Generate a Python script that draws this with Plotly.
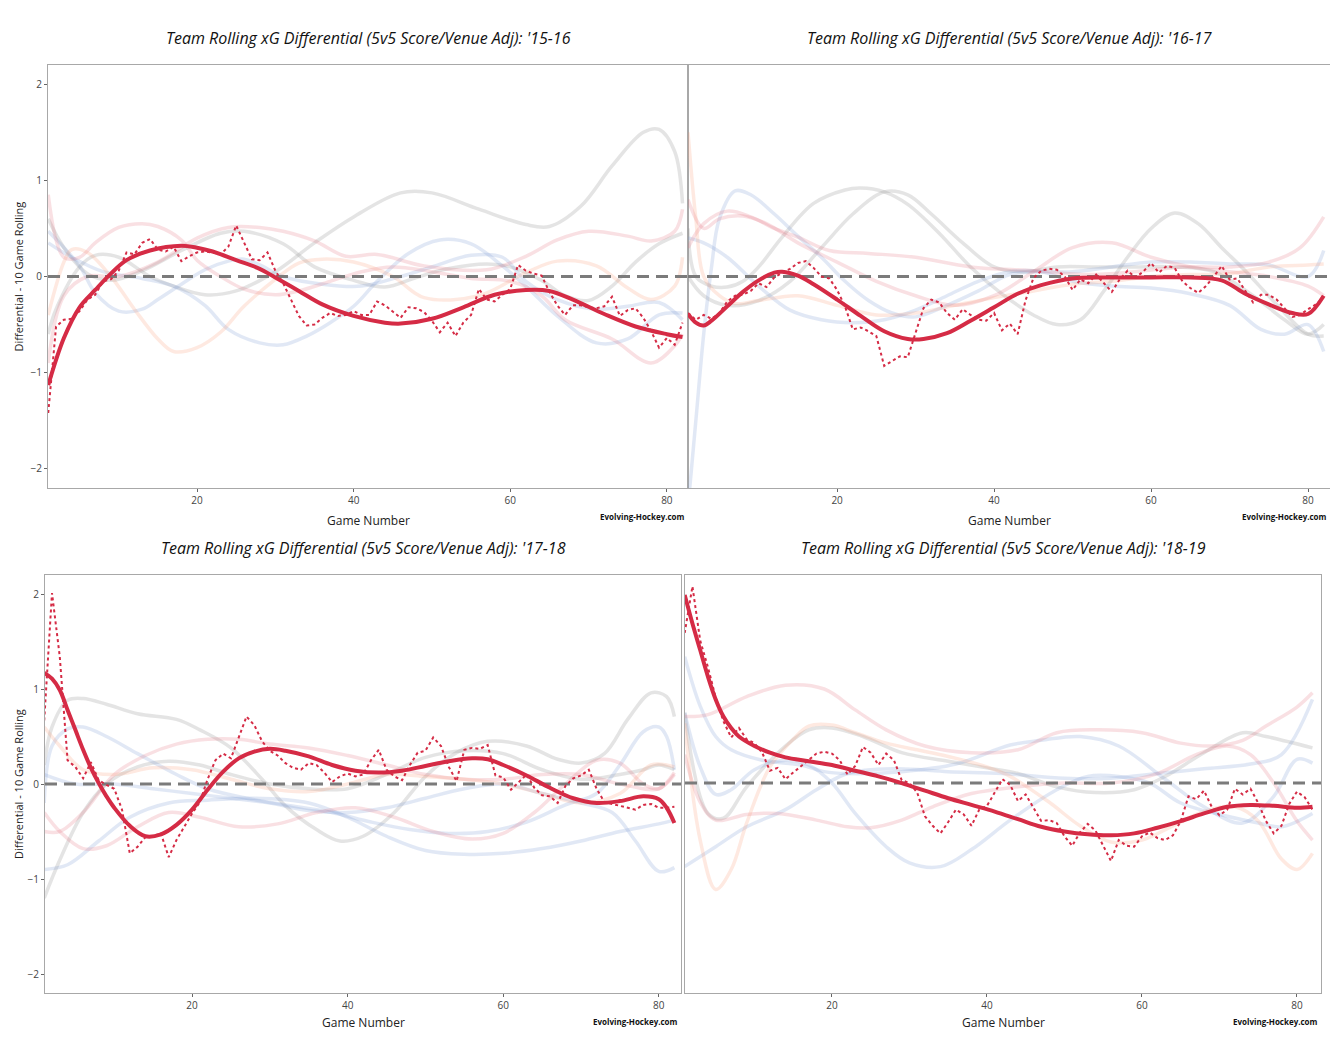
import plotly.graph_objects as go

# page body has an 8px margin, so the figure is drawn 8px smaller and shifted
PAGE_W, PAGE_H, OFF = 1338, 1039, 8
W, H = PAGE_W - 2 * OFF, PAGE_H - 2 * OFF
games = list(range(1, 83))

# ---------------- highlighted team: 10-game rolling (dotted) ----------------
p1_roll = [-1.42, -0.52, -0.45, -0.44, -0.36, -0.24, -0.19, -0.05, -0.03, 0.06,
           0.25, 0.23, 0.35, 0.39, 0.28, 0.26, 0.31, 0.16, 0.21, 0.25,
           0.26, 0.25, 0.23, 0.31, 0.53, 0.35, 0.18, 0.17, 0.25, 0.06,
           -0.07, -0.24, -0.41, -0.51, -0.50, -0.43, -0.38, -0.41, -0.40, -0.36,
           -0.40, -0.40, -0.26, -0.30, -0.37, -0.43, -0.32, -0.33, -0.37, -0.46,
           -0.58, -0.48, -0.62, -0.48, -0.40, -0.13, -0.24, -0.26, -0.19, -0.13,
           0.12, 0.06, 0.03, 0.01, -0.16, -0.30, -0.40, -0.30, -0.30, -0.32,
           -0.33, -0.31, -0.21, -0.41, -0.35, -0.33, -0.43, -0.57, -0.74, -0.64,
           -0.71, -0.48]
p2_roll = [-0.38, -0.45, -0.40, -0.44, -0.38, -0.26, -0.20, -0.19, -0.15, -0.07,
           -0.11, -0.01, 0.04, 0.08, 0.14, 0.16, 0.09, 0.00, -0.02, -0.14,
           -0.31, -0.55, -0.53, -0.57, -0.62, -0.93, -0.88, -0.83, -0.84, -0.58,
           -0.33, -0.24, -0.27, -0.38, -0.45, -0.34, -0.40, -0.45, -0.46, -0.38,
           -0.56, -0.49, -0.60, -0.25, -0.02, 0.06, 0.08, 0.07, 0.00, -0.14,
           -0.03, -0.07, 0.02, -0.07, -0.16, -0.03, 0.06, -0.01, 0.05, 0.14,
           0.04, 0.11, 0.09, -0.05, -0.12, -0.17, -0.10, 0.00, 0.11, -0.03,
           -0.02, -0.15, -0.27, -0.19, -0.19, -0.24, -0.33, -0.42, -0.40, -0.34,
           -0.29, -0.22]
p3_roll = [0.67, 2.01, 1.34, 0.25, 0.18, 0.06, 0.23, 0.04, -0.01, -0.05,
           -0.27, -0.73, -0.66, -0.56, -0.55, -0.52, -0.77, -0.59, -0.45, -0.31,
           -0.19, 0.05, 0.25, 0.32, 0.27, 0.50, 0.71, 0.62, 0.45, 0.35,
           0.30, 0.22, 0.17, 0.15, 0.22, 0.20, 0.12, 0.02, 0.08, 0.11,
           0.08, 0.10, 0.25, 0.36, 0.15, 0.08, 0.04, 0.20, 0.33, 0.35,
           0.49, 0.40, 0.18, 0.03, 0.36, 0.38, 0.37, 0.41, 0.09, 0.07,
           -0.06, 0.02, 0.10, -0.04, -0.12, -0.13, -0.20, -0.02, 0.06, 0.09,
           0.15, -0.05, -0.19, -0.21, -0.23, -0.25, -0.27, -0.22, -0.21, -0.25,
           -0.25, -0.24]
p4_roll = [1.58, 2.07, 1.50, 1.22, 0.90, 0.65, 0.48, 0.58, 0.46, 0.42,
           0.32, 0.13, 0.16, 0.04, 0.11, 0.18, 0.25, 0.31, 0.33, 0.31,
           0.24, 0.09, 0.18, 0.38, 0.32, 0.19, 0.31, 0.24, 0.03, 0.00,
           -0.10, -0.35, -0.45, -0.53, -0.41, -0.28, -0.33, -0.45, -0.28, -0.24,
           -0.10, 0.04, -0.02, -0.19, -0.12, -0.26, -0.40, -0.39, -0.42, -0.56,
           -0.66, -0.52, -0.43, -0.50, -0.66, -0.82, -0.60, -0.66, -0.67, -0.56,
           -0.52, -0.58, -0.60, -0.55, -0.40, -0.14, -0.17, -0.08, -0.25, -0.34,
           -0.28, -0.06, -0.12, -0.06, -0.21, -0.40, -0.53, -0.45, -0.22, -0.09,
           -0.15, -0.28]

# ---------------- highlighted team: smoothed trend ----------------
p1_trend_g = [1, 3, 5, 7, 9, 11, 14, 18, 20, 22, 25, 28, 30, 33, 36, 40, 44, 46, 50, 54,
              58, 62, 65, 68, 72, 76, 80, 82]
p1_trend = [-1.13, -0.64, -0.32, -0.14, 0.03, 0.17, 0.27, 0.32, 0.30, 0.26, 0.17, 0.08,
            -0.01, -0.15, -0.29, -0.41, -0.48, -0.49, -0.44, -0.32, -0.19, -0.14, -0.15,
            -0.24, -0.39, -0.52, -0.60, -0.63]
p2_trend_g = [1, 2, 3, 4, 6, 8, 10, 12, 13, 15, 17, 20, 23, 26, 29, 31, 34, 37, 40, 43,
              46, 50, 55, 60, 65, 69, 72, 75, 78, 80, 82]
p2_trend = [-0.39, -0.48, -0.51, -0.46, -0.31, -0.16, -0.04, 0.04, 0.05, 0.01, -0.08,
            -0.24, -0.41, -0.57, -0.65, -0.65, -0.59, -0.46, -0.32, -0.18, -0.09, -0.02,
            -0.01, -0.01, -0.01, -0.04, -0.18, -0.29, -0.38, -0.39, -0.20]
p3_trend_g = [1, 2, 3, 4, 5, 6, 7, 8, 9, 10, 12, 14, 16, 18, 20, 22, 24, 26, 28, 30, 32,
              35, 38, 41, 44, 47, 50, 53, 56, 58, 60, 63, 66, 69, 72, 75, 78, 80, 81, 82]
p3_trend = [1.17, 1.11, 0.99, 0.78, 0.57, 0.36, 0.17, 0.01, -0.13, -0.25, -0.44, -0.55,
            -0.53, -0.43, -0.27, -0.06, 0.13, 0.27, 0.34, 0.37, 0.35, 0.29, 0.20, 0.14,
            0.12, 0.14, 0.19, 0.24, 0.27, 0.26, 0.20, 0.09, -0.04, -0.15, -0.20, -0.18,
            -0.13, -0.16, -0.25, -0.41]
p4_trend_g = [1, 2, 3, 4, 5, 6, 7, 8, 10, 12, 14, 17, 20, 23, 26, 29, 32, 35, 38, 41, 44,
              47, 50, 53, 56, 59, 62, 65, 68, 71, 74, 77, 80, 82]
p4_trend = [1.98, 1.68, 1.40, 1.12, 0.88, 0.70, 0.58, 0.49, 0.39, 0.32, 0.27, 0.23, 0.19,
            0.13, 0.07, 0.00, -0.08, -0.16, -0.23, -0.30, -0.38, -0.46, -0.51, -0.54,
            -0.55, -0.53, -0.47, -0.40, -0.32, -0.25, -0.23, -0.24, -0.26, -0.25]

# ---------------- other teams (faint smoothed trends), (game, value) ----------------
p1_gray_a = [(1, -0.6), (2, -0.34), (5, 0.1), (7, 0.22), (10, 0.2), (14, 0.0), (17, -0.1),
             (21, -0.19), (25, -0.15), (30, 0.05), (35, 0.35), (40, 0.62), (46, 0.87),
             (50, 0.87), (56, 0.7), (62, 0.54), (65, 0.52), (69, 0.73), (73, 1.15), (77, 1.5),
             (79, 1.53), (81, 1.3), (82, 0.76)]
p1_gray_b = [(1, 0.6), (3, 0.3), (6, 0.03), (9, -0.04), (13, 0.06), (18, 0.27), (23, 0.45),
             (26, 0.47), (31, 0.34), (35, 0.1), (40, -0.04), (44, -0.11), (48, -0.01),
             (52, 0.08), (57, 0.13), (60, 0.1), (64, -0.04), (67, -0.2), (70, -0.25),
             (73, -0.1), (76, 0.15), (79, 0.34), (82, 0.45)]
p1_blue_a = [(1, 0.47), (5, 0.11), (7, -0.17), (10, -0.36), (13, -0.34), (15, -0.24),
             (18, -0.08), (21, 0.07), (24, 0.16), (26, 0.18), (28, 0.12), (31, 0.0),
             (36, -0.08), (41, -0.1), (46, 0.0), (50, 0.1), (55, 0.22), (59, 0.2), (62, -0.05),
             (66, -0.24), (71, -0.34), (75, -0.31), (79, -0.27), (82, -0.45)]
p1_blue_b = [(1, 0.35), (4, 0.2), (8, 0.05), (13, -0.02), (17, -0.1), (21, -0.3), (24, -0.55),
             (28, -0.69), (31, -0.71), (34, -0.62), (37, -0.48), (40, -0.31), (43, -0.05),
             (47, 0.24), (51, 0.38), (55, 0.34), (59, 0.11), (62, -0.1), (66, -0.41),
             (71, -0.69), (75, -0.65), (79, -0.4), (82, -0.38)]
p1_pink_a = [(1, 0.85), (3, 0.2), (5, 0.2), (7, 0.35), (10, 0.51), (13, 0.55), (15, 0.52),
             (18, 0.38), (20, 0.17), (23, 0.0), (26, -0.13), (30, -0.19), (33, -0.15),
             (37, -0.05), (41, 0.05), (45, 0.1), (50, 0.05), (55, -0.02), (60, -0.05),
             (64, -0.2), (67, -0.45), (73, -0.65), (78, -0.9), (81, -0.72), (82, -0.6)]
p1_pink_b = [(1, -0.9), (3, -0.2), (6, 0.0), (10, 0.0), (15, 0.15), (20, 0.4), (24, 0.51),
             (28, 0.51), (31, 0.47), (35, 0.37), (39, 0.21), (43, 0.23), (49, 0.11),
             (57, 0.07), (62, 0.21), (66, 0.38), (70, 0.47), (75, 0.42), (78, 0.37),
             (81, 0.47), (82, 0.7)]
p1_peach_a = [(1, -0.4), (3, 0.15), (4, 0.28), (6, 0.25), (9, 0.0), (12, -0.34), (15, -0.65),
              (17, -0.78), (20, -0.74), (23, -0.58), (26, -0.31), (30, -0.03), (33, 0.14),
              (36, 0.18), (40, 0.15), (45, 0.0), (49, -0.22), (56, -0.2), (62, 0.04),
              (66, 0.16), (71, 0.11), (75, -0.12), (78, -0.24), (81, -0.1), (82, 0.2)]

p2_gray_a = [(1, 0.5), (2, 0.0), (4, -0.1), (6, -0.11), (8, -0.05), (10, 0.1), (13, 0.41),
             (17, 0.76), (21, 0.9), (23, 0.92), (26, 0.88), (29, 0.75), (33, 0.45), (37, 0.1),
             (41, -0.18), (45, -0.4), (48, -0.5), (51, -0.45), (54, -0.15), (57, 0.2),
             (60, 0.5), (63, 0.66), (66, 0.55), (69, 0.3), (72, 0.06), (76, -0.29),
             (80, -0.6), (82, -0.62)]
p2_gray_b = [(1, 0.0), (3, -0.2), (6, -0.3), (10, -0.25), (14, -0.05), (18, 0.3), (22, 0.65),
             (26, 0.88), (29, 0.85), (32, 0.65), (36, 0.35), (40, 0.1), (44, 0.05), (48, 0.1),
             (53, 0.1), (58, 0.1), (63, 0.1), (68, 0.05), (73, -0.2), (77, -0.45), (80, -0.6),
             (82, -0.5)]
p2_blue_a = [(1, -2.4), (2, -1.5), (3, -0.6), (4, 0.1), (5, 0.6), (7, 0.89), (9, 0.85),
             (12, 0.65), (15, 0.42), (18, 0.2), (21, -0.05), (24, -0.25), (27, -0.38),
             (30, -0.42), (34, -0.3), (38, -0.15), (42, 0.02), (46, 0.05), (50, 0.05),
             (55, 0.1), (60, 0.15), (65, 0.15), (70, 0.13), (75, 0.12), (80, 0.0), (82, 0.27)]
p2_blue_b = [(1, 0.4), (3, 0.35), (6, 0.2), (10, -0.1), (14, -0.35), (18, -0.45), (22, -0.48),
             (26, -0.45), (30, -0.35), (34, -0.2), (38, -0.05), (42, 0.05), (46, 0.05),
             (50, -0.05), (55, -0.1), (60, -0.12), (65, -0.18), (70, -0.3), (74, -0.55),
             (77, -0.6), (80, -0.5), (82, -0.78)]
p2_pink_a = [(1, 0.3), (3, 0.55), (6, 0.68), (9, 0.62), (12, 0.5), (15, 0.41), (19, 0.27),
             (24, 0.24), (30, 0.2), (37, 0.1), (45, 0.06), (52, 0.02), (58, 0.05), (64, 0.1),
             (70, 0.1), (75, 0.15), (79, 0.3), (82, 0.62)]
p2_pink_b = [(1, 0.8), (3, 0.5), (5, 0.6), (8, 0.63), (11, 0.55), (15, 0.35), (20, 0.15),
             (25, -0.05), (30, -0.2), (35, -0.3), (40, -0.2), (45, 0.05), (50, 0.3),
             (55, 0.35), (60, 0.2), (65, 0.1), (70, 0.05), (75, 0.0), (80, -0.1), (82, -0.2)]
p2_peach_a = [(1, 1.5), (2, 0.6), (3, 0.0), (5, -0.2), (7, -0.28), (10, -0.25), (15, -0.2),
              (20, -0.3), (25, -0.4), (30, -0.38), (35, -0.3), (40, -0.22), (45, -0.15),
              (50, -0.08), (55, -0.05), (60, 0.0), (65, 0.02), (70, 0.03), (75, 0.1),
              (80, 0.12), (82, 0.13)]

p3_gray_a = [(1, 0.2), (2, 0.6), (4, 0.88), (6, 0.9), (9, 0.84), (13, 0.74), (18, 0.68),
             (21, 0.57), (25, 0.38), (29, 0.05), (32, -0.23), (36, -0.48), (39, -0.6),
             (42, -0.55), (46, -0.3), (50, 0.08), (54, 0.33), (58, 0.45), (63, 0.4),
             (67, 0.26), (70, 0.22), (73, 0.32), (76, 0.68), (79, 0.96), (81, 0.92), (82, 0.71)]
p3_gray_b = [(1, -1.2), (3, -0.8), (6, -0.3), (9, 0.0), (13, 0.18), (17, 0.24), (21, 0.2),
             (25, 0.1), (30, 0.0), (35, -0.05), (40, -0.05), (45, 0.1), (50, 0.28), (55, 0.35),
             (60, 0.32), (65, 0.15), (70, 0.05), (75, 0.1), (78, 0.15), (80, 0.2), (82, 0.15)]
p3_blue_a = [(1, -0.2), (2, 0.4), (4, 0.58), (6, 0.6), (9, 0.5), (13, 0.32), (18, 0.1),
             (22, -0.05), (27, -0.15), (32, -0.22), (38, -0.3), (43, -0.4), (48, -0.48),
             (53, -0.52), (58, -0.5), (63, -0.4), (68, -0.22), (72, -0.1), (75, 0.2),
             (78, 0.55), (80, 0.6), (81, 0.5), (82, 0.15)]
p3_blue_b = [(1, -0.9), (4, -0.85), (8, -0.6), (12, -0.35), (17, -0.2), (22, -0.17),
             (28, -0.15), (35, -0.2), (40, -0.35), (45, -0.55), (50, -0.7), (55, -0.74),
             (60, -0.73), (65, -0.68), (70, -0.6), (75, -0.5), (80, -0.42), (82, -0.38)]
p3_blue_c = [(1, 0.1), (5, 0.0), (10, 0.0), (15, -0.05), (20, -0.1), (25, -0.15), (30, -0.2),
             (35, -0.28), (40, -0.3), (45, -0.25), (50, -0.15), (55, -0.05), (60, 0.0),
             (65, -0.1), (70, -0.2), (74, -0.3), (77, -0.6), (80, -0.92), (82, -0.88)]
p3_pink_a = [(1, -0.5), (3, -0.5), (6, -0.3), (10, 0.1), (14, 0.3), (18, 0.42), (22, 0.47),
             (26, 0.47), (30, 0.42), (35, 0.38), (40, 0.3), (45, 0.2), (50, 0.1), (55, 0.05),
             (60, 0.05), (65, 0.1), (70, 0.1), (75, 0.0), (80, -0.05), (82, 0.1)]
p3_pink_b = [(1, -0.3), (3, -0.5), (6, -0.68), (9, -0.65), (13, -0.45), (17, -0.3),
             (21, -0.35), (26, -0.45), (31, -0.42), (36, -0.3), (41, -0.25), (46, -0.35),
             (51, -0.5), (56, -0.58), (60, -0.52), (64, -0.3), (68, 0.0), (72, 0.25),
             (75, 0.22), (78, 0.0), (80, -0.05), (82, 0.12)]
p3_peach_a = [(1, 0.6), (3, 0.4), (6, 0.15), (10, 0.1), (15, 0.17), (20, 0.15), (25, 0.05),
              (30, -0.05), (35, -0.08), (40, 0.0), (45, 0.1), (50, 0.08), (55, 0.05),
              (60, 0.0), (65, -0.1), (70, -0.2), (75, -0.1), (79, 0.2), (82, 0.18)]

p4_pink_a = [(1, 0.7), (4, 0.72), (9, 0.91), (14, 1.03), (19, 0.99), (23, 0.77), (27, 0.56),
             (32, 0.39), (38, 0.32), (44, 0.35), (49, 0.53), (54, 0.56), (60, 0.53),
             (65, 0.42), (69, 0.39), (73, 0.45), (76, 0.6), (80, 0.8), (82, 0.95)]
p4_pink_b = [(1, 0.3), (3, -0.2), (5, -0.39), (9, -0.33), (13, -0.32), (18, -0.39),
             (22, -0.46), (25, -0.47), (29, -0.39), (33, -0.25), (38, -0.11), (44, -0.04),
             (50, 0.0), (56, 0.0), (62, 0.1), (67, 0.3), (71, 0.39), (74, 0.3), (77, 0.0),
             (80, -0.4), (82, -0.6)]
p4_gray_a = [(1, 0.74), (4, -0.32), (6, -0.37), (9, -0.04), (14, 0.39), (17, 0.56),
             (20, 0.58), (24, 0.49), (29, 0.32), (35, 0.23), (40, 0.16), (44, 0.1),
             (49, -0.04), (54, -0.1), (59, -0.07), (63, 0.07), (68, 0.32), (73, 0.53),
             (76, 0.49), (82, 0.37)]
p4_blue_a = [(1, 1.33), (3, 0.81), (5, 0.49), (7, 0.35), (11, 0.24), (16, 0.19), (19, 0.12),
             (22, 0.1), (29, 0.12), (36, 0.2), (43, 0.4), (47, 0.45), (52, 0.49), (57, 0.39),
             (63, 0.04), (68, -0.25), (73, -0.42), (77, -0.14), (80, 0.25), (82, 0.21)]
p4_blue_b = [(1, 0.74), (3, 0.17), (5, -0.12), (7, -0.07), (10, 0.14), (14, 0.24), (17, 0.19),
             (20, 0.0), (23, -0.32), (27, -0.67), (30, -0.84), (34, -0.88), (38, -0.7),
             (43, -0.39), (49, -0.07), (53, 0.07), (57, 0.07), (61, 0.0), (65, -0.21),
             (71, -0.35), (75, -0.42), (78, -0.46), (82, -0.32)]
p4_blue_c = [(1, -0.88), (5, -0.67), (9, -0.46), (14, -0.28), (18, -0.07), (22, 0.1),
             (28, 0.15), (35, 0.12), (42, 0.1), (50, 0.05), (56, 0.05), (62, 0.1), (68, 0.15),
             (74, 0.2), (78, 0.3), (82, 0.88)]
p4_peach_a = [(1, 0.63), (3, -0.6), (5, -1.12), (7, -0.91), (9, -0.42), (12, 0.17),
              (15, 0.46), (17, 0.6), (20, 0.61), (23, 0.53), (27, 0.42), (31, 0.35),
              (35, 0.28), (40, 0.17), (43, 0.07), (48, -0.2), (52, -0.45), (56, -0.62),
              (60, -0.6), (64, -0.45), (68, -0.3), (72, -0.25), (75, -0.4), (78, -0.8),
              (80, -0.91), (82, -0.74)]

seasons = ["'15-16", "'16-17", "'17-18", "'18-19"]

# ---------------- styling ----------------
GRAY = "rgba(150,150,150,0.26)"
BLUE = "rgba(130,160,215,0.24)"
PINK = "rgba(228,110,125,0.21)"
PEACH = "rgba(248,150,115,0.21)"
RED = "#d52b45"

panel_bg = [
    [(p1_gray_a, GRAY), (p1_gray_b, GRAY), (p1_blue_a, BLUE), (p1_blue_b, BLUE),
     (p1_pink_a, PINK), (p1_pink_b, PINK), (p1_peach_a, PEACH)],
    [(p2_gray_a, GRAY), (p2_gray_b, GRAY), (p2_blue_a, BLUE), (p2_blue_b, BLUE),
     (p2_pink_a, PINK), (p2_pink_b, PINK), (p2_peach_a, PEACH)],
    [(p3_gray_a, GRAY), (p3_gray_b, GRAY), (p3_blue_a, BLUE), (p3_blue_b, BLUE),
     (p3_blue_c, BLUE), (p3_pink_a, PINK), (p3_pink_b, PINK), (p3_peach_a, PEACH)],
    [(p4_gray_a, GRAY), (p4_blue_a, BLUE), (p4_blue_b, BLUE), (p4_blue_c, BLUE),
     (p4_pink_a, PINK), (p4_pink_b, PINK), (p4_peach_a, PEACH)],
]
rolls = [p1_roll, p2_roll, p3_roll, p4_roll]
trends = [(p1_trend_g, p1_trend), (p2_trend_g, p2_trend), (p3_trend_g, p3_trend),
          (p4_trend_g, p4_trend)]

# pixel boxes on the page (left, top, right, bottom) and axis ranges
boxes = [(48, 65, 688, 488), (688, 65, 1330, 488), (45, 575, 681, 993), (685, 575, 1321, 993)]
xranges = [[0.97, 82.7], [1.0, 82.8], [1.1, 82.85], [1.04, 83.1]]
yranges = [[-2.2, 2.2], [-2.2, 2.2], [-2.2, 2.2], [-2.21, 2.19]]
xlabel_dy = [32, 32, 29, 29]


def px(v):
    return (v - OFF) / W


def py(v):
    return 1 - (v - OFF) / H


fig = go.Figure()
layout = dict(width=W, height=H, margin=dict(l=0, r=0, t=0, b=0),
              paper_bgcolor="white", plot_bgcolor="white", showlegend=False,
              font=dict(family="Open Sans", color="#333"))
annotations = []

for i in range(4):
    ax = "" if i == 0 else str(i + 1)
    xa, ya = "x" + ax, "y" + ax
    l, t, r, b = boxes[i]
    layout["xaxis" + ax] = dict(
        domain=[px(l), px(r)], range=xranges[i], anchor=ya,
        tickvals=[20, 40, 60, 80], ticks="outside", ticklen=3, tickcolor="#666",
        tickfont=dict(size=10, color="#444"), showgrid=False, zeroline=False,
        showline=True, mirror=True, linecolor="#a8a8a8", linewidth=1.2)
    layout["yaxis" + ax] = dict(
        domain=[py(b), py(t)], range=yranges[i], anchor=xa,
        tickvals=[-2, -1, 0, 1, 2], ticks="outside" if i in (0, 2) else "",
        ticklen=3, tickcolor="#666",
        showticklabels=(i in (0, 2)),
        tickfont=dict(size=10, color="#444"), showgrid=False, zeroline=False,
        showline=True, mirror=True, linecolor="#a8a8a8", linewidth=1.2)

    for pts, col in panel_bg[i]:
        fig.add_trace(go.Scatter(
            x=[p[0] for p in pts], y=[p[1] for p in pts], mode="lines",
            line=dict(color=col, width=3.5, shape="spline", smoothing=1.0),
            xaxis=xa, yaxis=ya, hoverinfo="skip"))

    fig.add_trace(go.Scatter(
        x=xranges[i], y=[0, 0], mode="lines",
        line=dict(color="#7b7b7b", width=3, dash="12px,7px"),
        xaxis=xa, yaxis=ya, hoverinfo="skip"))

    fig.add_trace(go.Scatter(
        x=games, y=rolls[i], mode="lines",
        line=dict(color=RED, width=2, dash="dot"),
        xaxis=xa, yaxis=ya))
    tg, tv = trends[i]
    fig.add_trace(go.Scatter(
        x=tg, y=tv, mode="lines",
        line=dict(color=RED, width=4, shape="spline", smoothing=1.0),
        xaxis=xa, yaxis=ya))

    cx = (l + r) / 2
    annotations.append(dict(
        text="<i>Team Rolling xG Differential (5v5 Score/Venue Adj): " + seasons[i] + "</i>",
        x=px(cx), y=py(t - 27), xref="paper", yref="paper", showarrow=False,
        xanchor="center", yanchor="middle", font=dict(size=16, color="#111")))
    annotations.append(dict(
        text="Game Number", x=px(cx), y=py(b + xlabel_dy[i]), xref="paper", yref="paper",
        showarrow=False, xanchor="center", yanchor="middle",
        font=dict(size=12, color="#222")))
    annotations.append(dict(
        text="<b>Evolving-Hockey.com</b>", x=px(r - 1), y=py(b + 28),
        xref="paper", yref="paper", showarrow=False, xanchor="right", yanchor="middle",
        font=dict(size=8, color="#111")))
    if i in (0, 2):
        annotations.append(dict(
            text="Differential - 10 Game Rolling", x=px(18), y=py((t + b) / 2),
            xref="paper", yref="paper", showarrow=False, textangle=-90,
            xanchor="center", yanchor="middle", font=dict(size=11, color="#222")))

layout["annotations"] = annotations
fig.update_layout(**layout)
fig.write_html("out.html")
